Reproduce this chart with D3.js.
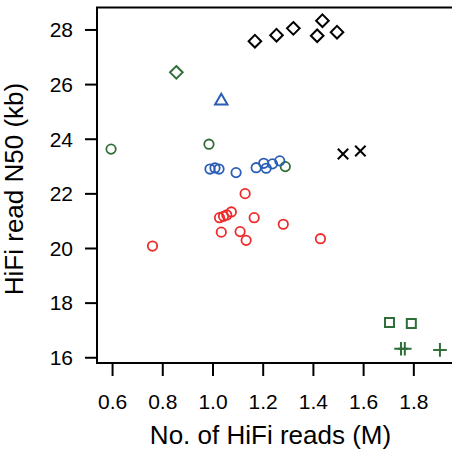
<!DOCTYPE html>
<html><head><meta charset="utf-8">
<script src="https://cdn.jsdelivr.net/npm/d3@7"></script>
<style>body{margin:0;background:#fff}svg{display:block}text{font-family:"Liberation Sans",Arial,Helvetica,sans-serif}</style>
</head><body>
<svg id="c" width="452" height="455"></svg>
<script>
const xTicks=[0.6,0.8,1.0,1.2,1.4,1.6,1.8];
const yTicks=[16,18,20,22,24,26,28];
const blackDiamondX=[1.169,1.255,1.322,1.438,1.417,1.496];
const blackDiamondY=[27.57,27.79,28.04,28.32,27.77,27.90];
const greenDiamondX=[0.856];
const greenDiamondY=[26.43];
const blueTriangleX=[1.035];
const blueTriangleY=[25.42];
const greenCircleX=[0.596,0.986,1.290];
const greenCircleY=[23.62,23.80,22.98];
const blueCircleX=[0.990,1.010,1.026,1.094,1.174,1.204,1.214,1.239,1.268];
const blueCircleY=[22.89,22.93,22.89,22.76,22.94,23.10,22.92,23.08,23.19];
const blackCrossX=[1.520,1.589];
const blackCrossY=[23.44,23.55];
const redCircleX=[0.761,1.028,1.044,1.057,1.075,1.130,1.166,1.282,1.035,1.110,1.134,1.430];
const redCircleY=[20.07,21.11,21.16,21.21,21.32,21.99,21.11,20.87,20.58,20.60,20.28,20.34];
const greenSquareX=[1.705,1.792];
const greenSquareY=[17.27,17.24];
const greenPlusX=[1.751,1.766,1.906];
const greenPlusY=[16.31,16.31,16.27];

const BLACK="#000",GREEN="#2f6e38",BLUE="#2a5db5",RED="#ee2a2a";
const svg=d3.select("#c");
const x=d3.scaleLinear().domain([0.54,1.958]).range([97,453]);
const y=d3.scaleLinear().domain([15.79,28.8]).range([363,7.6]);

svg.append("path").attr("d",`M${x.range()[1]+2},${y.range()[1]}H${x.range()[0]}V${y.range()[0]}H${x.range()[1]+2}`)
  .attr("fill","none").attr("stroke","#000").attr("stroke-width",2);

const xa=svg.append("g").attr("transform",`translate(0,${y.range()[0]})`)
  .call(d3.axisBottom(x).tickValues(xTicks).tickFormat(d3.format(".1f")).tickSize(13).tickPadding(18));
const ya=svg.append("g").attr("transform",`translate(${x.range()[0]},0)`)
  .call(d3.axisLeft(y).tickValues(yTicks).tickFormat(d3.format("d")).tickSize(12).tickPadding(12));
[xa,ya].forEach(a=>{a.select(".domain").remove();a.selectAll(".tick line").attr("stroke","#000").attr("stroke-width",2);
  a.selectAll(".tick text").attr("fill","#000").style("font-size","21px");});
ya.selectAll(".tick text").attr("dy","0.35em");

svg.append("text").attr("x",270.5).attr("y",444).attr("text-anchor","middle").style("font-size","26px").text("No. of HiFi reads (M)");
svg.append("text").attr("transform","translate(23,189) rotate(-90)").attr("text-anchor","middle").style("font-size","26px").text("HiFi read N50 (kb)");

function pts(xs,ys){return xs.map((v,i)=>[x(v),y(ys[i])]);}
const g=svg.append("g").attr("fill","none");
function circles(xs,ys,col){g.selectAll(null).data(pts(xs,ys)).enter().append("circle")
  .attr("cx",d=>d[0]).attr("cy",d=>d[1]).attr("r",4.7).attr("stroke",col).attr("stroke-width",1.8);}
function path(xs,ys,col,fn,sw){g.selectAll(null).data(pts(xs,ys)).enter().append("path")
  .attr("d",d=>fn(d[0],d[1])).attr("stroke",col).attr("stroke-width",sw).attr("fill","none");}
const diamond=(a,b)=>{const h=6.3;return `M${a},${b-h}L${a+h},${b}L${a},${b+h}L${a-h},${b}Z`;};
const tri=(a,b)=>`M${a},${b-6.2}L${a+6.2},${b+4.6}L${a-6.2},${b+4.6}Z`;
const sq=(a,b)=>{const h=4.5;return `M${a-h},${b-h}H${a+h}V${b+h}H${a-h}Z`;};
const plus=(a,b)=>{const h=6.8;return `M${a-h},${b}H${a+h}M${a},${b-h}V${b+h}`;};
const cross=(a,b)=>{const h=5.2;return `M${a-h},${b-h}L${a+h},${b+h}M${a-h},${b+h}L${a+h},${b-h}`;};

path(blackDiamondX,blackDiamondY,BLACK,diamond,2);
path(greenDiamondX,greenDiamondY,GREEN,diamond,2);
path(blueTriangleX,blueTriangleY,BLUE,tri,2);
circles(greenCircleX,greenCircleY,GREEN);
circles(blueCircleX,blueCircleY,BLUE);
path(blackCrossX,blackCrossY,BLACK,cross,2);
circles(redCircleX,redCircleY,RED);
path(greenSquareX,greenSquareY,GREEN,sq,2);
path(greenPlusX,greenPlusY,GREEN,plus,2);
</script>
</body></html>
